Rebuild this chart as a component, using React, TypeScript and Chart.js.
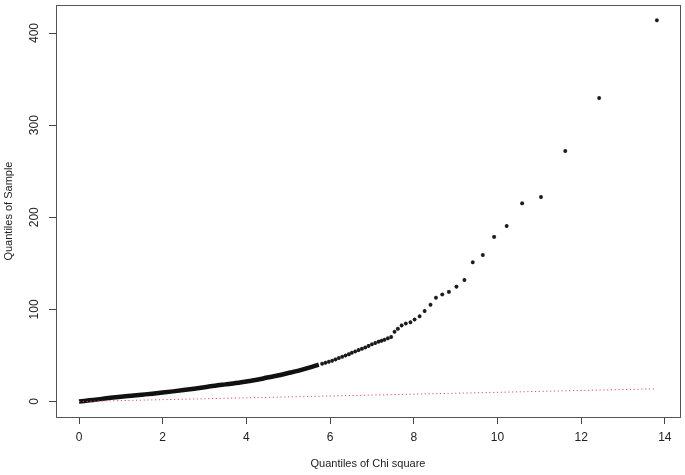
import { useEffect, useRef } from "react";
import { Chart, registerables } from "chart.js";

Chart.register(...registerables);

// Dense part of the sample quantiles
const denseX = [0.0, 0.25, 0.5, 0.75, 1.0, 1.25, 1.5, 1.75, 2.0, 2.25, 2.5, 2.75, 3.0, 3.25, 3.5, 3.75, 4.0, 4.25, 4.5, 4.75, 5.0, 5.25, 5.5, 5.73];
const denseY = [0.0, 1.3, 2.6, 4.0, 5.2, 6.3, 7.4, 8.5, 9.7, 11.0, 12.4, 13.9, 15.5, 17.2, 18.6, 20.0, 21.8, 23.6, 26.0, 28.3, 30.9, 33.6, 36.8, 40.0];

// Upper tail: individually visible points
const tailX = [5.81, 5.89, 5.97, 6.05, 6.13, 6.21, 6.29, 6.37, 6.45, 6.52, 6.6, 6.68, 6.76, 6.84, 6.92, 7.0, 7.08, 7.16, 7.23, 7.3, 7.38, 7.46, 7.54, 7.62, 7.71, 7.81, 7.92, 8.02, 8.14, 8.26, 8.4, 8.53, 8.68, 8.84, 9.02, 9.21, 9.41, 9.65, 9.92, 10.22, 10.59, 11.04, 11.62, 12.43, 13.81];
const tailY = [41.0, 42.1, 43.2, 44.3, 45.7, 47.2, 48.6, 50.0, 51.4, 52.9, 54.3, 55.8, 57.2, 58.6, 60.4, 62.2, 63.6, 65.0, 66.0, 67.1, 68.6, 70.0, 75.7, 78.9, 82.6, 84.7, 86.1, 89.0, 92.5, 98.2, 105.1, 112.6, 116.1, 119.0, 124.7, 131.9, 151.2, 159.0, 178.7, 190.5, 215.1, 222.0, 272.0, 329.5, 413.9];

// Reference line y = x
const refX = [0, 13.8];
const refY = [0, 13.8];

const xTicks = [0, 2, 4, 6, 8, 10, 12, 14];
const yTicks = [0, 100, 200, 300, 400];
const xTitle = "Quantiles of Chi square";
const yTitle = "Quantiles of Sample";

const FONT = '"Liberation Sans", Arial, Helvetica, sans-serif';

export default function App() {
  const ref = useRef<HTMLCanvasElement | null>(null);

  useEffect(() => {
    if (!ref.current) return;
    const dense = denseX.map((x, i) => ({ x, y: denseY[i] }));
    const tail = tailX.map((x, i) => ({ x, y: tailY[i] }));
    const refLine = refX.map((x, i) => ({ x, y: refY[i] }));

    const textPlugin = {
      id: "rtext",
      afterDraw(chart: any) {
        const { ctx, chartArea } = chart;
        const xs = chart.scales.x;
        const ys = chart.scales.y;
        ctx.save();
        // box
        ctx.strokeStyle = "#555";
        ctx.lineWidth = 1;
        const l = Math.round(chartArea.left) + 0.5;
        const t = Math.round(chartArea.top) + 0.5;
        const r = Math.round(chartArea.right) + 0.5;
        const b = Math.round(chartArea.bottom) + 0.5;
        ctx.strokeRect(l, t, r - l, b - t);
        // x tick labels
        ctx.fillStyle = "#222";
        ctx.font = `12px ${FONT}`;
        ctx.textAlign = "center";
        ctx.textBaseline = "middle";
        xTicks.forEach((v) => {
          ctx.fillText(String(v), xs.getPixelForValue(v), 438);
        });
        // y tick labels rotated
        yTicks.forEach((v) => {
          ctx.save();
          ctx.translate(35, ys.getPixelForValue(v));
          ctx.rotate(-Math.PI / 2);
          ctx.fillText(String(v), 0, 0);
          ctx.restore();
        });
        // titles
        ctx.font = `11px ${FONT}`;
        ctx.fillText(xTitle, (chartArea.left + chartArea.right) / 2, 464);
        ctx.save();
        ctx.translate(9, (chartArea.top + chartArea.bottom) / 2);
        ctx.rotate(-Math.PI / 2);
        ctx.fillText(yTitle, 0, 0);
        ctx.restore();
        ctx.restore();
      },
    };

    const chart = new Chart(ref.current, {
      type: "scatter",
      data: {
        datasets: [
          {
            data: refLine,
            showLine: true,
            borderColor: "#e0505a",
            borderWidth: 1,
            borderDash: [1.2, 2.6],
            pointRadius: 0,
          },
          {
            data: dense,
            showLine: true,
            borderColor: "#111",
            borderWidth: 4.5,
            pointRadius: 0,
            cubicInterpolationMode: "monotone",
          },
          {
            data: tail,
            showLine: false,
            pointStyle: "star",
            pointRadius: 2,
            borderWidth: 1.1,
            borderColor: "#1a1a1a",
            backgroundColor: "#1a1a1a",
          },
        ],
      },
      options: {
        animation: false,
        responsive: false,
        devicePixelRatio: 1,
        layout: { padding: { top: 0, right: 2, left: 0, bottom: 0 } },
        plugins: { legend: { display: false }, tooltip: { enabled: false } },
        scales: {
          x: {
            type: "linear",
            min: -0.55,
            max: 14.36,
            afterBuildTicks: (s: any) => {
              s.ticks = xTicks.map((v) => ({ value: v }));
            },
            afterFit: (s: any) => {
              s.height = 58;
            },
            grid: { drawOnChartArea: false, drawTicks: true, tickLength: 7, color: "#444" },
            border: { display: false },
            ticks: { display: false },
          },
          y: {
            type: "linear",
            min: -16.8,
            max: 430.3,
            afterBuildTicks: (s: any) => {
              s.ticks = yTicks.map((v) => ({ value: v }));
            },
            afterFit: (s: any) => {
              s.width = 56;
            },
            grid: { drawOnChartArea: false, drawTicks: true, tickLength: 7, color: "#444" },
            border: { display: false },
            ticks: { display: false },
          },
        },
      },
      plugins: [textPlugin],
    });
    return () => chart.destroy();
  }, []);

  return (
    <div style={{ position: "fixed", left: 0, top: 0, width: 685, height: 475, background: "#fff" }}>
      <canvas ref={ref} width={685} height={475} style={{ width: 685, height: 475 }} />
    </div>
  );
}
